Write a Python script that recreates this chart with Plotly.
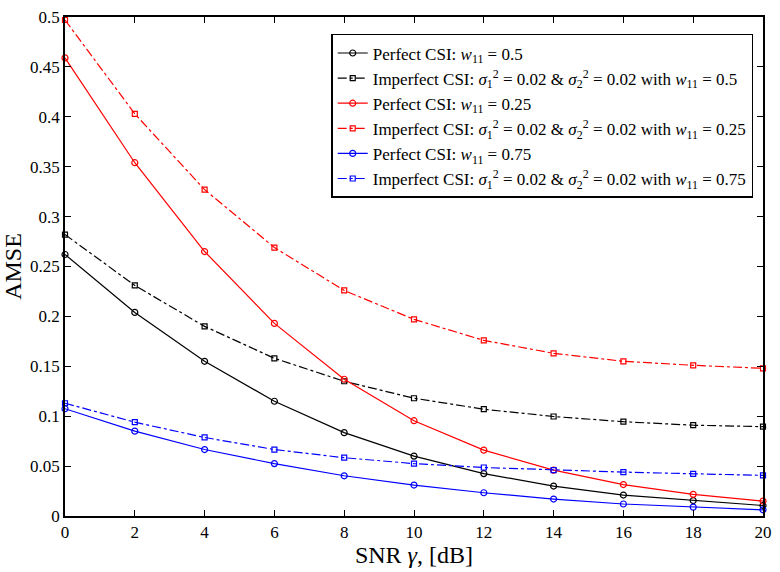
import plotly.graph_objects as go

snr = [0, 2, 4, 6, 8, 10, 12, 14, 16, 18, 20]

perfect_w050 = [0.262, 0.204, 0.155, 0.115, 0.0835, 0.060, 0.0425, 0.030, 0.021, 0.0155, 0.0105]
imperfect_w050 = [0.282, 0.231, 0.190, 0.158, 0.135, 0.118, 0.107, 0.0997, 0.0945, 0.091, 0.0895]
perfect_w025 = [0.459, 0.354, 0.265, 0.193, 0.137, 0.0955, 0.066, 0.046, 0.0315, 0.0217, 0.015]
imperfect_w025 = [0.497, 0.403, 0.327, 0.269, 0.226, 0.197, 0.176, 0.163, 0.155, 0.151, 0.148]
perfect_w075 = [0.1075, 0.085, 0.0666, 0.0525, 0.0403, 0.031, 0.0233, 0.017, 0.012, 0.0089, 0.0062]
imperfect_w075 = [0.113, 0.094, 0.0787, 0.0666, 0.0584, 0.0525, 0.0486, 0.046, 0.044, 0.0423, 0.0407]

x_ticks = [0, 2, 4, 6, 8, 10, 12, 14, 16, 18, 20]
y_ticks = [0, 0.05, 0.1, 0.15, 0.2, 0.25, 0.3, 0.35, 0.4, 0.45, 0.5]
y_tick_labels = ["0", "0.05", "0.1", "0.15", "0.2", "0.25", "0.3", "0.35", "0.4", "0.45", "0.5"]

imp = ("Imperfect CSI: <i>σ</i><sub>1</sub><sup>2</sup> = 0.02 &amp; "
       "<i>σ</i><sub>2</sub><sup>2</sup> = 0.02 with <i>w</i><sub>11</sub> = ")
series = [
    ("Perfect CSI: <i>w</i><sub>11</sub> = 0.5", perfect_w050, "black", "solid", "circle-open"),
    (imp + "0.5", imperfect_w050, "black", "dashdot", "square-open"),
    ("Perfect CSI: <i>w</i><sub>11</sub> = 0.25", perfect_w025, "red", "solid", "circle-open"),
    (imp + "0.25", imperfect_w025, "red", "dashdot", "square-open"),
    ("Perfect CSI: <i>w</i><sub>11</sub> = 0.75", perfect_w075, "blue", "solid", "circle-open"),
    (imp + "0.75", imperfect_w075, "blue", "dashdot", "square-open"),
]

fig = go.Figure()
for name, ys, color, dash, sym in series:
    fig.add_trace(go.Scatter(
        x=snr, y=ys, name=name, mode="lines+markers",
        line=dict(color=color, width=1.2, dash=dash),
        marker=dict(symbol=sym, size=6 if sym.startswith("circle") else 5,
                    color=color, line=dict(width=1.2, color=color)),
        cliponaxis=False,
    ))

font_family = "Liberation Serif, DejaVu Serif, serif"
fig.update_layout(
    width=780, height=572,
    margin=dict(l=65, r=10, t=8, b=56),
    paper_bgcolor="white", plot_bgcolor="white",
    font=dict(family=font_family, color="black", size=16),
    showlegend=True,
    legend=dict(
        x=0.986, y=0.966, xanchor="right", yanchor="top",
        bgcolor="white", bordercolor="black", borderwidth=1.5,
        font=dict(family=font_family, size=17, color="black"),
        tracegroupgap=0, itemwidth=30,
    ),
    xaxis=dict(
        range=[0, 20], tickvals=x_ticks, ticktext=[str(v) for v in x_ticks],
        ticks="inside", ticklen=6, tickcolor="black", mirror="allticks",
        showline=True, linecolor="black", linewidth=1.5, showgrid=False, zeroline=False,
        title=dict(text="SNR <i>γ</i>, [dB]", font=dict(size=24), standoff=2),
        tickfont=dict(size=17),
    ),
    yaxis=dict(
        range=[0, 0.5], tickvals=y_ticks, ticktext=y_tick_labels,
        ticks="inside", ticklen=6, tickcolor="black", mirror="allticks",
        showline=True, linecolor="black", linewidth=1.5, showgrid=False, zeroline=False,
        title=dict(text="AMSE", font=dict(size=24), standoff=2),
        tickfont=dict(size=17),
    ),
)

fig.write_html("out.html")
